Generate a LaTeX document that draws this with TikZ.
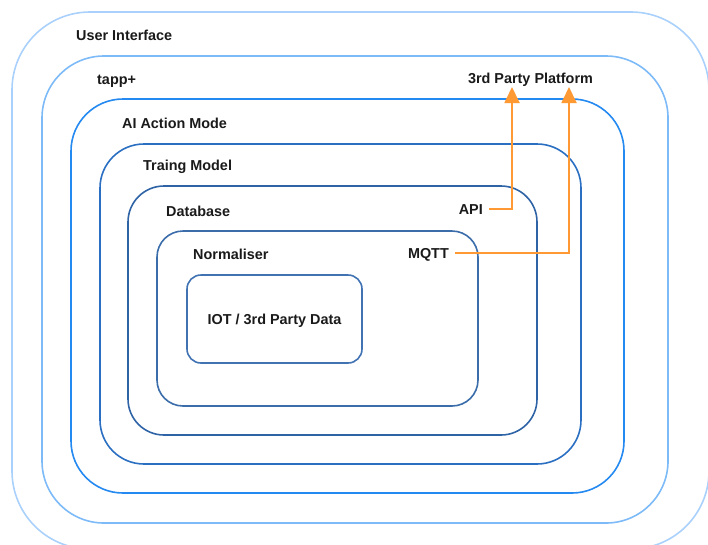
\documentclass[tikz,border=0pt]{standalone}
\usepackage{fontspec}
\setmainfont{Liberation Sans}
\usetikzlibrary{arrows.meta}
\definecolor{cui}{HTML}{A9D1FB}
\definecolor{ctapp}{HTML}{7DBAF8}
\definecolor{cai}{HTML}{2489F0}
\definecolor{ctrain}{HTML}{2B6FC2}
\definecolor{cdb}{HTML}{2E63A6}
\definecolor{cnorm}{HTML}{3A6DAA}
\definecolor{ciot}{HTML}{4173B3}
\definecolor{corange}{HTML}{FF9933}
\definecolor{ctext}{HTML}{1A1A1A}
\begin{document}
\begin{tikzpicture}[x=1pt,y=-1pt,
  layer/.style={line width=1.6pt},
  lbl/.style={font=\bfseries\fontsize{14.4}{17}\selectfont, text=ctext, inner sep=0pt, text height=10.3pt, text depth=0pt, anchor=west},
  portlbl/.style={lbl, anchor=east, inner xsep=6pt},
  arr/.style={corange, line width=1.8pt, -{Triangle[width=15pt,length=16pt]}}]
\useasboundingbox (0,0) rectangle (708,544);
% nested layers
\draw[layer, cui, rounded corners=78pt] (12,12) rectangle (709,549);
\draw[layer, ctapp, rounded corners=62pt] (42,56) rectangle (668,523);
\draw[layer, cai, rounded corners=52pt] (71,99) rectangle (624,493);
\draw[layer, ctrain, rounded corners=44pt] (100,144) rectangle (581,464);
\draw[layer, cdb, rounded corners=36pt] (128,186) rectangle (537,435);
\draw[layer, cnorm, rounded corners=26pt] (157,231) rectangle (478,406);
% labels
\node[lbl] (ui) at (76,35) {User Interface};
\node[lbl] (tapp) at (97,79) {tapp+};
\node[lbl] (aiam) at (122,123) {AI Action Mode};
\node[lbl] (train) at (143,165) {Traing Model};
\node[lbl] (db) at (166,211) {Database};
\node[lbl] (norm) at (193,254) {Normaliser};
\node[lbl, anchor=center] (platform) at (530.5,78) {3rd Party Platform};
\node[portlbl] (api) at (489,209) {API};
\node[portlbl] (mqtt) at (455,253) {MQTT};
% inner data box
\node[layer, draw=ciot, rounded corners=14pt, minimum width=175pt, minimum height=88pt,
      font=\bfseries\fontsize{14.4}{17}\selectfont, text=ctext, text height=10.3pt, text depth=0pt] (iot) at (274.5,319) {IOT / 3rd Party Data};
% connectors
\coordinate (tapi) at (512,87);
\coordinate (tmqtt) at (569,87);
\draw[arr] (api.east) -| (tapi);
\draw[arr] (mqtt.east) -| (tmqtt);
\end{tikzpicture}
\end{document}
